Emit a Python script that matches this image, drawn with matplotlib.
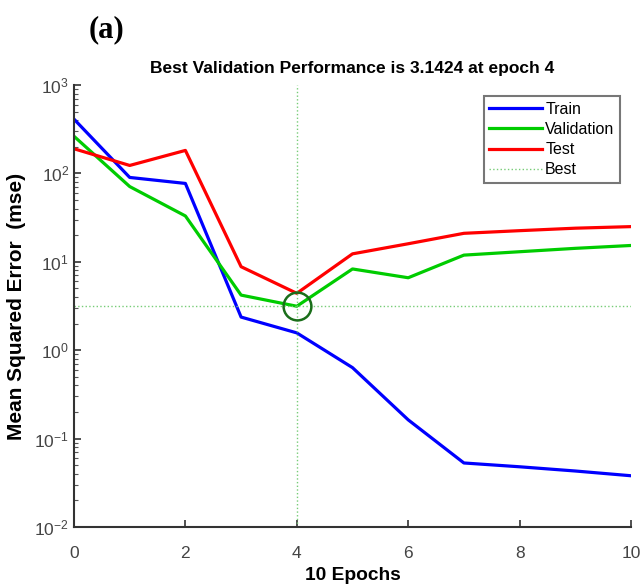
import numpy as np
import matplotlib
matplotlib.use("Agg")
import matplotlib.pyplot as plt
from matplotlib.ticker import LogLocator, NullFormatter

plt.rcParams['font.family'] = ['Liberation Sans', 'DejaVu Sans']
plt.rcParams['axes.unicode_minus'] = False

epochs = [0, 1, 2, 3, 4, 5, 6, 7, 8, 9, 10]
train = [411, 90, 77, 2.37, 1.57, 0.635, 0.163, 0.053, 0.048, 0.043, 0.038]
validation = [263, 71, 33, 4.2, 3.1424, 8.3, 6.6, 11.9, 13.0, 14.2, 15.3]
test = [190, 123, 182, 8.8, 4.4, 12.3, 16.0, 21.0, 22.5, 24.0, 25.0]
best_epoch = 4
best_perf = 3.1424

fig = plt.figure(figsize=(6.4, 5.88), dpi=100)
ax = fig.add_axes([74/640, 1-527/588, (631-74)/640, (527-85)/588])

ax.plot(epochs, train, color='#0000ff', linewidth=2.3, label='Train')
ax.plot(epochs, validation, color='#00cc00', linewidth=2.3, label='Validation')
ax.plot(epochs, test, color='#ff0000', linewidth=2.3, label='Test')
ax.axvline(best_epoch, color='#77cc77', linestyle=':', linewidth=1, label='Best')
ax.axhline(best_perf, color='#77cc77', linestyle=':', linewidth=1)
ax.plot([best_epoch], [best_perf], 'o', markersize=20, markerfacecolor='none',
        markeredgecolor='#1a6e1a', markeredgewidth=1.8)

ax.set_yscale('log')
ax.set_xlim(0, 10)
ax.set_ylim(1e-2, 1e3)
ax.set_xticks([0, 2, 4, 6, 8, 10])
ax.yaxis.set_major_locator(LogLocator(base=10, numticks=10))
ax.yaxis.set_minor_locator(LogLocator(base=10, subs=np.arange(2, 10), numticks=10))
ax.yaxis.set_minor_formatter(NullFormatter())

for s in ['top', 'right']:
    ax.spines[s].set_visible(False)
for s in ['left', 'bottom']:
    ax.spines[s].set_color('#333333')
    ax.spines[s].set_linewidth(1.5)

ax.tick_params(which='major', direction='in', length=5, width=1.2, color='#333333',
               labelsize=12.5, labelcolor='#444444')
ax.tick_params(which='minor', direction='in', length=3, width=0.8, color='#555555')
ax.tick_params(axis='x', pad=14)

ax.set_title('Best Validation Performance is 3.1424 at epoch 4', fontsize=12.5,
             fontweight='bold', pad=9)
ax.set_xlabel('10 Epochs', fontsize=13.8, fontweight='bold', labelpad=4)
ax.set_ylabel('Mean Squared Error  (mse)', fontsize=15, fontweight='bold', labelpad=6)

leg = ax.legend(loc='upper right', bbox_to_anchor=(620/640, 1-96/588),
                bbox_transform=fig.transFigure, fontsize=11.5, frameon=True,
                fancybox=False, handlelength=3.3, handletextpad=0.2,
                borderpad=0.35, labelspacing=0.33, borderaxespad=0)
leg.get_frame().set_edgecolor('#555555')
leg.get_frame().set_linewidth(1.5)

fig.text(106/640, 1-30/588, '(a)', fontsize=22, fontweight='bold',
         family=['Liberation Serif', 'DejaVu Serif'], ha='center', va='center')

fig.savefig('out.png', dpi=100)
